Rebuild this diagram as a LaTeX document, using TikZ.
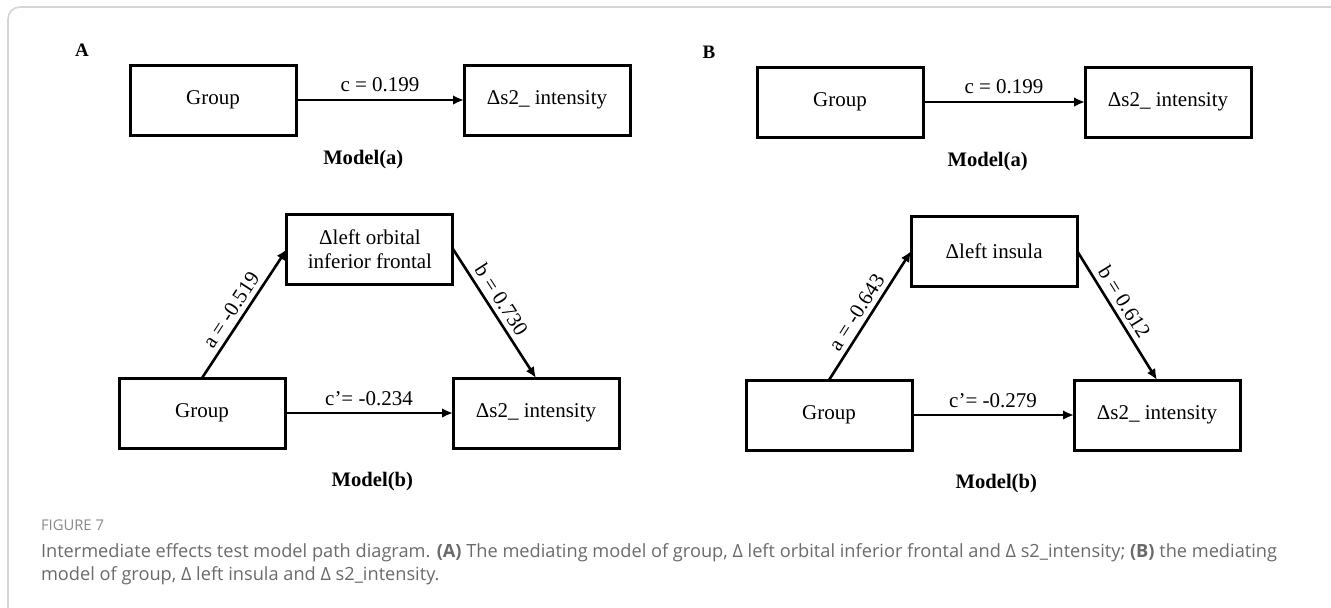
\documentclass[tikz,border=0pt]{standalone}
\usepackage{fontspec}
\setmainfont{Liberation Serif}
\newfontfamily\capfont{Open Sans}
\usetikzlibrary{positioning,arrows.meta}
\definecolor{capgray}{HTML}{6A6A6A}
\definecolor{figgray}{HTML}{888888}
\definecolor{framegray}{HTML}{D4D4D4}

\begin{document}
\begin{tikzpicture}[x=0.5pt,y=-0.5pt,every node/.style={outer sep=0pt},
 var/.style={draw,line width=1.5pt,minimum width=83pt,minimum height=35pt,
  inner sep=2pt,align=center,font=\fontsize{10.5}{12}\selectfont},
 effect/.style={line width=1.3pt,-{Latex[length=5.5pt,width=4.8pt]}},
 coef/.style={font=\fontsize{10.5}{12}\selectfont,inner sep=1.5pt},
 modl/.style={font=\fontsize{10.3}{12}\selectfont\bfseries},
 panel/.style={font=\fontsize{9.5}{11}\selectfont\bfseries},
 capt/.style={anchor=base west,inner sep=0pt,text=capgray,
  font=\capfont\fontsize{9.1}{10}\selectfont}]

  \useasboundingbox (0,0) rectangle (1331,607);
  \draw[framegray,line width=0.8pt,rounded corners=6pt]
   (1345,7) -- (8,7) -- (8,620);

  \foreach \P/\ox/\oy/\d/\mtxt/\av/\bv/\cv in
   {A/0/0/334/{Δleft orbital\\inferior frontal}/-0.519/0.730/-0.234,
    B/627/2/328/{Δleft insula}/-0.643/0.612/-0.279}
  {\node[panel] (lab\P) at ({\ox+82},{\oy+50}) {\P};
   % model (a)
   \node[var] (grpa\P) at ({\ox+213},{\oy+100}) {Group};
   \node[var] (outa\P) at ({\ox+213+\d},{\oy+100}) {Δs2\_ intensity};
   \draw[effect] (grpa\P) -- (outa\P) node[midway,above=2.5pt,coef]{c = 0.199};
   \node[modl] (moda\P) at ({\ox+213+0.45*\d},{\oy+160}) {Model(a)};
   % model (b)
   \node[var] (mid\P) at ({\ox+213+0.47*\d},{\oy+249}) {\mtxt};
   \node[var] (grpb\P) at ({\ox+202},{\oy+413}) {Group};
   \node[var] (outb\P) at ({\ox+202+\d},{\oy+413}) {Δs2\_ intensity};
   \draw[effect] (grpb\P.north) -- (mid\P.west)
    node[pos=0.47,above=1.5pt,sloped,coef]{a = \av};
   \draw[effect] (mid\P.east) -- (outb\P.north)
    node[pos=0.45,above=1.5pt,sloped,coef]{b = \bv};
   \draw[effect] (grpb\P) -- (outb\P) node[midway,above=2pt,coef]{c’= \cv};
   \node[modl] (modb\P) at ({\ox+202+0.51*\d},{\oy+482}) {Model(b)};
  }

  \node[capt,text=figgray,font=\capfont\fontsize{7.4}{8}\selectfont]
   (fig) at (41,530) {FIGURE 7};
  \node[capt] (cap1) at (41,557) {Intermediate effects test model path
   diagram. \textbf{(A)} The mediating model of group, Δ left orbital inferior
   frontal and Δ s2\_intensity; \textbf{(B)} the mediating};
  \node[capt] (cap2) at ([yshift=-11.5pt]cap1.base west) {model of group,
   Δ left insula and Δ s2\_intensity.};

\end{tikzpicture}
\end{document}
